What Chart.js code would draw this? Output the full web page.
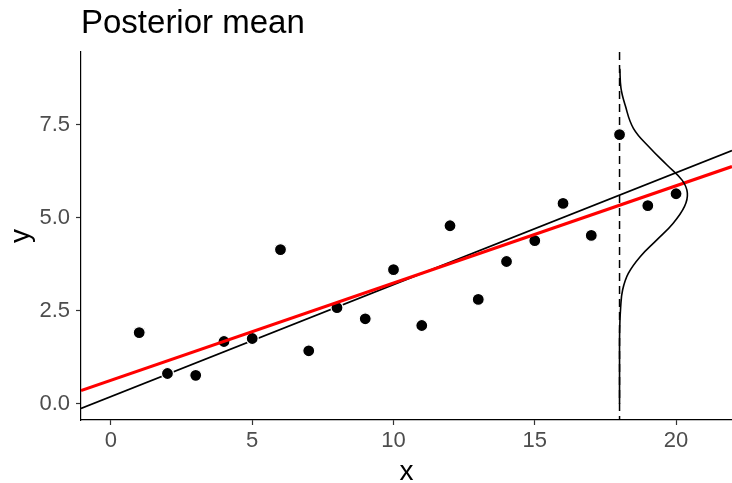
<!DOCTYPE html>
<html>
<head>
<meta charset="utf-8">
<script src="https://cdn.jsdelivr.net/npm/chart.js@4"></script>
<style>
   html, body { margin: 0; padding: 0; background: #fff; }
   #wrap { width: 732px; height: 483px; position: relative; }
</style>
</head>
<body>
<div id="wrap"><canvas id="posteriorChart" width="732" height="483"></canvas></div>
<script>
// observed points
const obsX = [1, 2, 3, 4, 5, 6, 7, 8, 9, 10, 11, 12, 13, 14, 15, 16, 17, 18, 19, 20];
const obsY = [1.91, 0.81, 0.76, 1.67, 1.75, 4.14, 1.42, 2.58, 2.28, 3.60, 2.10, 4.78, 2.80, 3.82, 4.38, 5.38, 4.52, 7.23, 5.32, 5.64];

// straight lines, end points read at the panel edges
const lineX = [-1.06, 21.98];
const trueLineY = [-0.13, 6.80];
const meanLineY = [0.35, 6.37];

// prediction point and density drawn sideways from it
const predX = 18;
const densY = [0.0, 1.0, 2.0, 2.6, 3.06, 3.5, 3.95, 4.4, 4.85, 5.3, 5.66, 6.0, 6.42, 6.87, 7.4, 8.03, 8.48, 9.0];
const densX = [18.0, 18.0, 18.005, 18.04, 18.11, 18.31, 18.73, 19.32, 19.9, 20.3, 20.4, 20.22, 19.67, 19.08, 18.49, 18.195, 18.05, 18.01];

const xTicks = [0, 5, 10, 15, 20];
const yTicks = [0, 2.5, 5, 7.5];
const xRange = [-1.06, 21.98];
const yRange = [-0.44, 9.45];

const FONT = "'Liberation Sans', Arial, sans-serif";
const toXY = (xs, ys) => xs.map((x, i) => ({ x, y: ys[i] }));

const titlePlugin = {
   id: "plotTitle",
   afterDraw(chart) {
      const ctx = chart.ctx;
      ctx.save();
      ctx.fillStyle = "#000";
      ctx.font = `33px ${FONT}`;
      ctx.textBaseline = "alphabetic";
      ctx.textAlign = "left";
      ctx.fillText("Posterior mean", 81, 33);
      ctx.restore();
   },
};

const vlinePlugin = {
   id: "predLine",
   beforeDatasetsDraw(chart) {
      const { ctx, chartArea, scales } = chart;
      const px = scales.x.getPixelForValue(predX);
      ctx.save();
      ctx.strokeStyle = "#000";
      ctx.lineWidth = 1.5;
      ctx.setLineDash([8, 5]);
      ctx.beginPath();
      ctx.moveTo(px, chartArea.top);
      ctx.lineTo(px, chartArea.bottom);
      ctx.stroke();
      ctx.restore();
   },
};

const axisCommon = {
   border: { display: true, color: "#000", width: 1.2 },
   grid: { display: true, drawOnChartArea: false, color: "#333", tickLength: 5, tickWidth: 1.2 },
};

new Chart(document.getElementById("posteriorChart").getContext("2d"), {
   type: "scatter",
   data: {
      datasets: [
         {
            label: "density",
            data: toXY(densX, densY),
            showLine: true,
            borderColor: "#000",
            borderWidth: 1.6,
            pointRadius: 0,
            tension: 0.4,
            order: 1,
         },
         {
            label: "posterior mean",
            data: toXY(lineX, meanLineY),
            showLine: true,
            borderColor: "#ff0000",
            borderWidth: 3.2,
            pointRadius: 0,
            order: 2,
         },
         {
            label: "observed",
            data: toXY(obsX, obsY),
            backgroundColor: "#000",
            borderColor: "#fff",
            borderWidth: 1.2,
            pointRadius: 6,
            order: 3,
         },
         {
            label: "true line",
            data: toXY(lineX, trueLineY),
            showLine: true,
            borderColor: "#000",
            borderWidth: 1.6,
            pointRadius: 0,
            order: 4,
         },
      ],
   },
   options: {
      responsive: false,
      animation: false,
      events: [],
      layout: { autoPadding: false, padding: { top: 52, left: 0, right: 0, bottom: 0 } },
      plugins: { legend: { display: false }, tooltip: { enabled: false } },
      scales: {
         x: {
            type: "linear",
            min: xRange[0],
            max: xRange[1],
            ...axisCommon,
            afterBuildTicks: s => { s.ticks = xTicks.map(v => ({ value: v })); },
            afterFit: s => { s.height = 63; s.paddingLeft = 0; s.paddingRight = 0; },
            ticks: { color: "#4d4d4d", font: { family: FONT, size: 22 }, padding: 3, maxRotation: 0 },
            title: { display: true, text: "x", color: "#000", font: { family: FONT, size: 28, lineHeight: 0.8 }, padding: 0 },
         },
         y: {
            type: "linear",
            min: yRange[0],
            max: yRange[1],
            ...axisCommon,
            afterBuildTicks: s => { s.ticks = yTicks.map(v => ({ value: v })); },
            afterFit: s => { s.width = 81; s.paddingTop = 0; s.paddingBottom = 0; },
            ticks: { color: "#4d4d4d", font: { family: FONT, size: 22 }, padding: 6, callback: v => Number(v).toFixed(1) },
            title: { display: true, text: "y", color: "#000", font: { family: FONT, size: 28, lineHeight: 1.2 }, padding: { top: 4, bottom: 0 } },
         },
      },
   },
   plugins: [titlePlugin, vlinePlugin],
});
</script>
</body>
</html>
